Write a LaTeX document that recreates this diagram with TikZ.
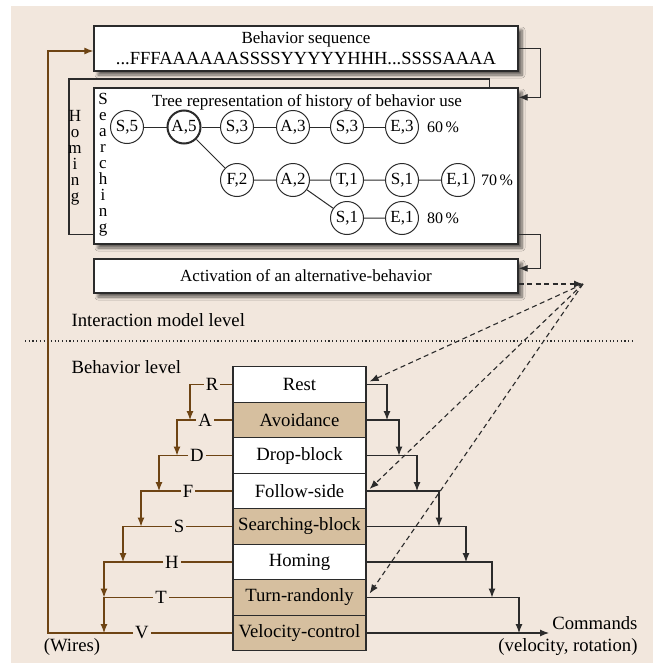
\documentclass[tikz,border=0pt]{standalone}
\usepackage{fontspec}
\setmainfont{Liberation Serif}
\usetikzlibrary{arrows.meta,shadows.blur,calc}
\definecolor{bgc}{HTML}{F2E7DD}
\definecolor{tanc}{HTML}{D6BF9F}
\definecolor{brn}{HTML}{6E4413}
\definecolor{edgec}{HTML}{2B2B2B}
\begin{document}
\begin{tikzpicture}[x=1pt,y=-1pt,
 fs/.style={font=\fontsize{17}{20}\selectfont},
 fl/.style={font=\fontsize{18.7}{22}\selectfont},
 box/.style={draw=edgec, line width=1.3pt, fill=white, inner sep=0pt,
   blur shadow={shadow xshift=4pt,shadow yshift=-4pt,shadow blur steps=6,shadow blur radius=3pt,shadow opacity=60}},
 tn/.style={circle, draw=edgec, line width=1pt, fill=white, minimum size=33pt, inner sep=0pt, fs},
 beh/.style={draw=edgec, line width=1.3pt, minimum width=133pt, minimum height=35.5pt, inner sep=0pt, fl},
 wire/.style={draw=brn, line width=1.2pt},
 warrow/.style={wire, -{Latex[length=9pt,width=7pt]}},
 kline/.style={draw=edgec, line width=1.1pt},
 karrow/.style={kline, -{Latex[length=9pt,width=7pt]}},
 darrow/.style={kline, dash pattern=on 5pt off 3.5pt, -{Latex[length=9pt,width=7pt]}},
 lett/.style={fl, inner sep=2pt},
 vlet/.style={fs, align=center, inner sep=0pt, anchor=north, font=\fontsize{17}{16}\selectfont}
]
\useasboundingbox (0,0) rectangle (658,664);
\fill[bgc] (11,6) rectangle (653,663);

% top boxes
\node[box, minimum width=424pt, minimum height=45pt, align=center, font=\fontsize{17}{21}\selectfont] (seq) at (306,48.5)
  {Behavior sequence\\{\fontsize{18.5}{21}\selectfont ...FFFAAAAAASSSSYYYYYHHH...SSSSAAAA}};
\node[box, minimum width=424pt, minimum height=156pt] (tree) at (306,166) {};
\node[box, minimum width=424pt, minimum height=34pt, fs] (act) at (306,276) {Activation of an alternative-behavior};

% Homing frame
\draw[kline] ($(tree.north east)+(-29,0)$) |- (69,79) |- ($(tree.south west)+(0,-10)$);
\node[vlet] (homing) at (75,110) {H\\o\\m\\i\\n\\g};
\node[vlet] (searching) at (103,93) {S\\e\\a\\r\\c\\h\\i\\n\\g};

% tree
\node[fs] (ttl) at (307,102) {Tree representation of history of behavior use};
\node[tn] (s5) at (127,127) {S,5};
\node[tn, line width=2pt] (a5) at (184,127) {A,5};
\node[tn] (s3) at (237,127) {S,3};
\node[tn] (a3) at (293,127) {A,3};
\node[tn] (s3b) at (347,127) {S,3};
\node[tn] (e3) at (402,127) {E,3};
\node[font=\fontsize{16}{18}\selectfont] (p60) at (443,127) {60\,\%};
\node[tn] (f2) at (237,180) {F,2};
\node[tn] (a2) at (293,180) {A,2};
\node[tn] (t1) at (347,180) {T,1};
\node[tn] (s1) at (402,180) {S,1};
\node[tn] (e1) at (458,180) {E,1};
\node[font=\fontsize{16}{18}\selectfont] (p70) at (497,180) {70\,\%};
\node[tn] (s1b) at (347,218) {S,1};
\node[tn] (e1b) at (402,218) {E,1};
\node[font=\fontsize{16}{18}\selectfont] (p80) at (443,218) {80\,\%};
\draw[kline, line width=1pt] (s5) -- (a5) -- (s3) -- (a3) -- (s3b) -- (e3);
\draw[kline, line width=1pt] (a5) -- (f2) -- (a2) -- (t1) -- (s1) -- (e1);
\draw[kline, line width=1pt] (a2) -- (s1b) -- (e1b);

% connectors between top boxes
\draw[karrow] (seq.east) -- ++(22,0) |- ($(tree.north east)+(0,10)$);
\draw[karrow] ($(tree.south east)+(0,-10)$) -- ++(22,0) |- ($(act.north east)+(0,10)$);

% levels
\node[fl, anchor=west] (iml) at (68,320) {Interaction model level};
\coordinate (dl1) at (25,341);
\coordinate (dl2) at (635,341);
\draw[edgec, line width=1.1pt, dash pattern=on 1.1pt off 2.6pt] (dl1) -- (dl2);
\node[fl, anchor=west] (bl) at (68,367) {Behavior level};

% behavior stack
\node[beh, fill=white] (rest) at (299.5,384.5) {Rest};
\node[beh, fill=tanc] (avoid) at (299.5,420) {Avoidance};
\node[beh, fill=white] (drop) at (299.5,455.5) {Drop-block};
\node[beh, fill=white] (follow) at (299.5,491) {Follow-side};
\node[beh, fill=tanc] (search) at (299.5,526.5) {Searching-block};
\node[beh, fill=white] (homingb) at (299.5,562) {Homing};
\node[beh, fill=tanc] (turn) at (299.5,597.5) {Turn-randonly};
\node[beh, fill=tanc] (vel) at (299.5,633) {Velocity-control};

% letters
\node[lett] (lR) at (212,384.5) {R};
\node[lett] (lA) at (205,420) {A};
\node[lett] (lD) at (197,455.5) {D};
\node[lett] (lF) at (188,491) {F};
\node[lett] (lS) at (179,526.5) {S};
\node[lett] (lH) at (172,562) {H};
\node[lett] (lT) at (161,597.5) {T};
\node[lett] (lV) at (142,633) {V};

% wires
\draw[wire] (rest.west) -- (lR);
\draw[wire] (avoid.west) -- (lA);
\draw[wire] (drop.west) -- (lD);
\draw[wire] (follow.west) -- (lF);
\draw[wire] (search.west) -- (lS);
\draw[wire] (homingb.west) -- (lH);
\draw[wire] (turn.west) -- (lT);
\draw[wire] (vel.west) -- (lV);
\draw[warrow] (lR.west) -| (lA -| 190,0);
\draw[warrow] (lA.west) -| (lD -| 177,0);
\draw[warrow] (lD.west) -| (lF -| 159,0);
\draw[warrow] (lF.west) -| (lS -| 141,0);
\draw[warrow] (lS.west) -| (lH -| 123,0);
\draw[warrow] (lH.west) -| (lT -| 104,0);
\draw[warrow] (lT.west) -| (lV -| 104,0);
\draw[warrow] (lV.west) -- (lV.west -| 48,0) |- ($(seq.west)+(0,2.5)$);
\node[fl] (wires) at (72,647) {(Wires)};

% command arrows
\draw[karrow] (rest.east) -| (avoid.east -| 387,0);
\draw[karrow] (avoid.east) -| (drop.east -| 399,0);
\draw[karrow] (drop.east) -| (follow.east -| 417,0);
\draw[karrow] (follow.east) -| (search.east -| 439,0);
\draw[karrow] (search.east) -| (homingb.east -| 466,0);
\draw[karrow] (homingb.east) -| (turn.east -| 492,0);
\draw[karrow] (turn.east) -| (vel.east -| 519,0);
\node[fl, align=right, anchor=east] (cmd) at (641,636) {Commands\\(velocity, rotation)};
\draw[karrow] (vel.east) -- (vel.east -| 549,0);

% dashed activation
\coordinate (P) at (583,284);
\draw[darrow] ($(act.east)+(0,8)$) -- (P);
\draw[darrow] (P) -- ($(rest.east)+(3,-3)$);
\draw[darrow] (P) -- ($(follow.east)+(3,-2)$);
\draw[darrow] (P) -- ($(turn.east)+(3,-4)$);
\end{tikzpicture}
\end{document}
